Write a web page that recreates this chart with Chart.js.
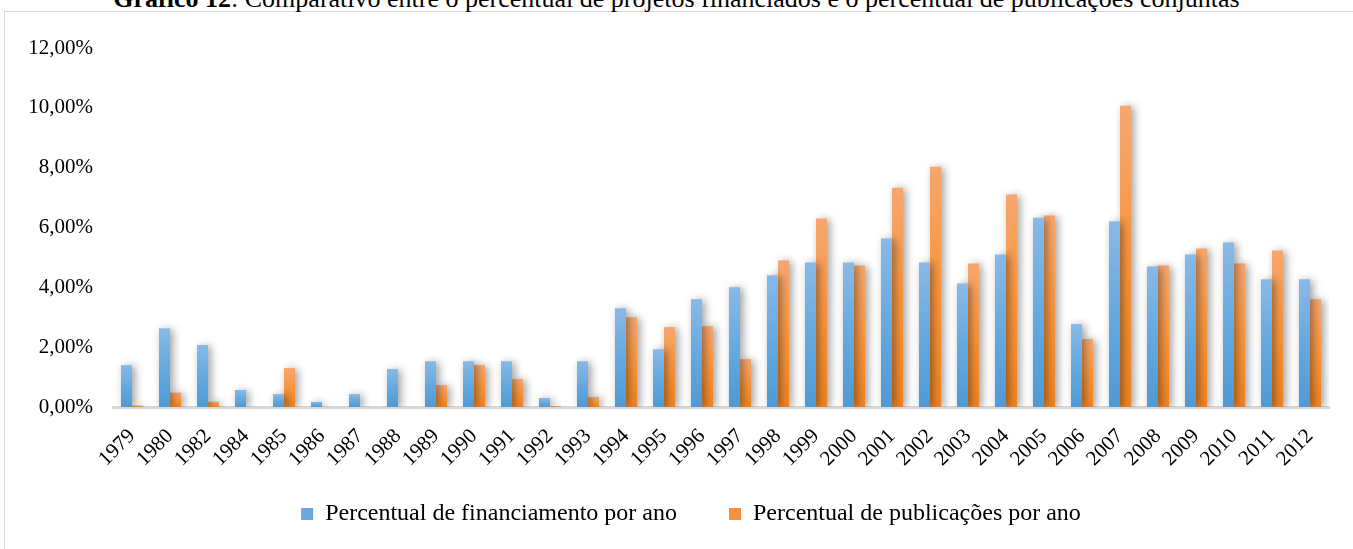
<!DOCTYPE html>
<html>
<head>
<meta charset="utf-8">
<script src="https://cdn.jsdelivr.net/npm/chart.js@4.4.1/dist/chart.umd.min.js"></script>
<style>
  html, body { margin: 0; padding: 0; background: #ffffff; overflow: hidden; }
  #wrap { position: relative; width: 1353px; height: 549px; overflow: hidden; }
  #frame { position: absolute; left: 4px; top: 11px; width: 1400px; height: 600px;
           border-left: 1px solid #d9d9d9; border-top: 1px solid #d9d9d9; box-sizing: border-box; }
  #title { position: absolute; left: 0; top: -14px; width: 1353px; text-align: center;
           font-family: 'Liberation Serif', 'Times New Roman', serif; font-size: 26px; line-height: 26px;
           color: #000; white-space: nowrap; }
  #c { position: absolute; left: 0; top: 0; }
</style>
</head>
<body>
<div id="wrap">
  <div id="frame"></div>
  <div id="title"><b>Gráfico 12</b>: Comparativo entre o percentual de projetos financiados e o percentual de publicações conjuntas</div>
  <canvas id="c" width="1353" height="549"></canvas>
</div>
<script>
const years = ['1979','1980','1982','1984','1985','1986','1987','1988','1989','1990','1991','1992','1993','1994','1995','1996','1997','1998','1999','2000','2001','2002','2003','2004','2005','2006','2007','2008','2009','2010','2011','2012'];
const financiamento = [1.40,2.63,2.07,0.57,0.43,0.17,0.43,1.27,1.53,1.53,1.53,0.30,1.53,3.30,1.93,3.60,4.00,4.40,4.83,4.83,5.63,4.83,4.13,5.10,6.33,2.77,6.20,4.70,5.10,5.50,4.27,4.27];
const publicacoes = [0.05,0.48,0.18,0,1.30,0,0,0,0.73,1.40,0.93,0.03,0.33,3.00,2.67,2.70,1.60,4.90,6.30,4.73,7.33,8.03,4.80,7.10,6.40,2.27,10.07,4.73,5.30,4.80,5.23,3.60];
const seriesNames = ['Percentual de financiamento por ano', 'Percentual de publicações por ano'];
const yTicks = [0, 2, 4, 6, 8, 10, 12];

const FONT = "'Liberation Serif', 'Times New Roman', serif";

function grad(top, mid, bot) {
  return (c) => {
    const chart = c.chart;
    if (!chart.chartArea || c.type !== 'data') return mid;
    const ys = chart.scales.y;
    const y0 = ys.getPixelForValue(0), y1 = ys.getPixelForValue(c.raw);
    if (!isFinite(y1) || Math.abs(y0 - y1) < 1) return mid;
    const g = chart.ctx.createLinearGradient(0, y1, 0, y0);
    g.addColorStop(0, top); g.addColorStop(0.5, mid); g.addColorStop(1, bot);
    return g;
  };
}

const shadowPlugin = {
  id: 'barShadow',
  beforeDraw(chart) {
    // let tick labels extend beyond their scale boxes (no label clipping)
    Object.values(chart.scales).forEach(s => { s._computeLabelArea = () => undefined; });
  },
  beforeDatasetsDraw(chart) {
    const ctx = chart.ctx;
    ctx.save();
    ctx.shadowColor = 'rgba(0,0,0,0.38)';
    ctx.shadowBlur = 9;
    ctx.shadowOffsetX = 3;
    ctx.shadowOffsetY = 1;
  },
  afterDatasetsDraw(chart) { chart.ctx.restore(); }
};

const solid = ['#6aa8df', '#f68f3e'];

new Chart(document.getElementById('c'), {
  type: 'bar',
  data: {
    labels: years,
    datasets: [
      { label: seriesNames[0], data: financiamento, backgroundColor: grad('#89b9e6', '#66a9e0', '#4e9ad5'), borderWidth: 0 },
      { label: seriesNames[1], data: publicacoes, backgroundColor: grad('#f6a76f', '#f8953e', '#ee8422'), borderWidth: 0 }
    ]
  },
  options: {
    responsive: false,
    animation: false,
    devicePixelRatio: 1,
    layout: { padding: { left: 53, right: 24, top: 48, bottom: 13 } },
    datasets: { bar: { categoryPercentage: 0.58, barPercentage: 1.0 } },
    scales: {
      x: {
        grid: { display: false, drawTicks: false },
        border: { display: true, color: '#d6d6d6', width: 3 },
        ticks: { autoSkip: false, maxRotation: 45, minRotation: 45, padding: 17, color: '#000',
                 font: { family: FONT, size: 21 } },
        afterFit(scale) { scale.height = 43; }
      },
      y: {
        min: 0, max: 12,
        afterBuildTicks(scale) { scale.ticks = yTicks.map(v => ({ value: v })); },
        grid: { display: false, drawTicks: false },
        border: { display: false },
        ticks: { padding: 20, color: '#000', font: { family: FONT, size: 21 },
                 callback: (v) => v.toFixed(2).replace('.', ',') + '%' },
        afterFit(scale) { scale.width = 60; }
      }
    },
    plugins: {
      legend: {
        position: 'bottom',
        labels: {
          boxWidth: 12, boxHeight: 12, padding: 52, color: '#000',
          font: { family: FONT, size: 24 },
          generateLabels(chart) {
            const items = Chart.defaults.plugins.legend.labels.generateLabels(chart);
            items.forEach((it, i) => { it.fillStyle = solid[i]; it.strokeStyle = solid[i]; it.lineWidth = 0; });
            return items;
          }
        }
      },
      title: { display: false },
      tooltip: { enabled: false }
    }
  },
  plugins: [shadowPlugin]
});
</script>
</body>
</html>
